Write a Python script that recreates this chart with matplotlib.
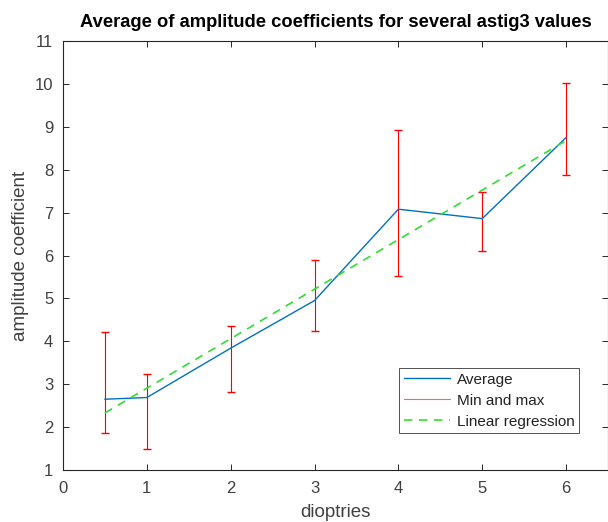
import numpy as np
import matplotlib.pyplot as plt
from matplotlib.lines import Line2D

# ------------------------------------------------------------
# DATA
# ------------------------------------------------------------
dioptries = [0.5, 1, 2, 3, 4, 5, 6]
average = [2.65, 2.69, 3.84, 4.95, 7.08, 6.86, 8.75]
min_vals = [1.86, 1.49, 2.83, 4.24, 5.53, 6.10, 7.87]
max_vals = [4.22, 3.24, 4.36, 5.89, 8.92, 7.47, 10.02]
reg_x = [0.5, 6]
reg_y = [2.33, 8.68]

xticks = [0, 1, 2, 3, 4, 5, 6]
yticks = list(range(1, 12))

# ------------------------------------------------------------
# FIGURE
# ------------------------------------------------------------
plt.rcParams["font.family"] = ["Liberation Sans", "DejaVu Sans"]
dark = (0.15, 0.15, 0.15)
label_grey = (0.25, 0.25, 0.25)

fig = plt.figure(figsize=(6.08, 5.22), dpi=100)
ax = fig.add_axes([0.1036, 0.0996, 0.8964, 0.8218])

avg = np.array(average)
lower = avg - np.array(min_vals)
upper = np.array(max_vals) - avg

ax.errorbar(dioptries, average, yerr=[lower, upper], fmt="none",
            ecolor="#ff0000", elinewidth=0.8, capsize=3.2, capthick=1.0,
            zorder=2)
ax.plot(dioptries, average, color="#0072bd", linewidth=1.0, zorder=3)
ax.plot(reg_x, reg_y, color="#33dd33", linewidth=1.2,
        linestyle=(0, (5, 4)), zorder=4)

ax.set_xlim(0, 6.5)
ax.set_ylim(1, 11)
ax.set_xticks(xticks)
ax.set_yticks(yticks)
ax.tick_params(direction="in", length=4, width=0.7, colors=dark,
               labelcolor=label_grey, labelsize=12, top=True, right=True)
ax.tick_params(axis="y", pad=7)
ax.tick_params(axis="x", pad=8)
for s in ax.spines.values():
    s.set_color(dark)
    s.set_linewidth(0.8)

ax.set_xlabel("dioptries", fontsize=13.5, color=label_grey, labelpad=6)
ax.set_ylabel("amplitude coefficient", fontsize=13.5, color=label_grey,
              labelpad=4)
ax.set_title("Average of amplitude coefficients for several astig3 values",
             fontsize=13.2, fontweight="bold", pad=10)

handles = [
    Line2D([], [], color="#0072bd", linewidth=1.0),
    Line2D([], [], color="#ff6060", linewidth=0.8),
    Line2D([], [], color="#33dd33", linewidth=1.2, linestyle=(0, (5, 4))),
]
leg = ax.legend(handles, ["Average", "Min and max", "Linear regression"],
                loc="lower right", bbox_to_anchor=(0.947, 0.086),
                fontsize=11, frameon=True, fancybox=False,
                handlelength=3.0, borderpad=0.3, labelspacing=0.45,
                handletextpad=0.45, borderaxespad=0)
leg.get_frame().set_edgecolor(dark)
leg.get_frame().set_linewidth(0.7)
for t in leg.get_texts():
    t.set_color("#222222")

fig.patch.set_facecolor("white")
plt.savefig("out.png", dpi=100)
